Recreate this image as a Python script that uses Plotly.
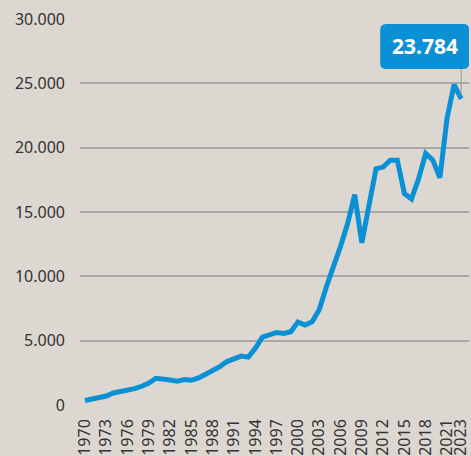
import plotly.graph_objects as go

years = list(range(1970, 2024))
values = [
    350, 440, 545, 700, 935, 1035, 1145, 1270, 1455, 1710,
    2080, 2050, 1940, 1845, 1980, 1920, 2100, 2390, 2670, 2985,
    3375, 3560, 3800, 3720, 4415, 5270, 5430, 5635, 5555, 5690,
    6440, 6210, 6465, 7400, 9170, 10650, 12330, 14100, 16360, 12600,
    15480, 18360, 18490, 19030, 19030, 16440, 16020, 17580, 19550, 19030,
    17660, 22260, 24900, 23784,
]
tick_years = list(range(1970, 2022, 3)) + [2023]
y_ticks = [0, 5000, 10000, 15000, 20000, 25000, 30000]

BG = "#dcd8d1"
BLUE = "#0a90d5"
last_x, last_y = years[-1], values[-1]

fig = go.Figure()
fig.add_trace(
    go.Scatter(
        x=years,
        y=values,
        mode="lines",
        line=dict(color=BLUE, width=5),
        hoverinfo="skip",
    )
)

# rounded label box + thin leader line, sized in pixels around the last point
r = 6
x0, x1, y0, y1 = -81, 8, 30, 75
box_path = (
    f"M {x0 + r},{y0} L {x1 - r},{y0} Q {x1},{y0} {x1},{y0 + r} "
    f"L {x1},{y1 - r} Q {x1},{y1} {x1 - r},{y1} "
    f"L {x0 + r},{y1} Q {x0},{y1} {x0},{y1 - r} "
    f"L {x0},{y0 + r} Q {x0},{y0} {x0 + r},{y0} Z"
)
fig.add_shape(
    type="line",
    xref="x", yref="y",
    xsizemode="pixel", ysizemode="pixel",
    xanchor=last_x, yanchor=last_y,
    x0=0, x1=0, y0=4, y1=30,
    line=dict(color="#999999", width=1),
)
fig.add_shape(
    type="path",
    xref="x", yref="y",
    xsizemode="pixel", ysizemode="pixel",
    xanchor=last_x, yanchor=last_y,
    path=box_path,
    fillcolor=BLUE,
    line=dict(width=0),
    layer="above",
)
fig.add_annotation(
    x=last_x, y=last_y,
    text=f"<b>{last_y:,}</b>".replace(",", "."),
    showarrow=False,
    xshift=-36.5, yshift=52.5,
    font=dict(family="Noto Sans", size=21, color="white"),
)

fig.update_xaxes(
    range=[1969.3, 2024.1],
    tickvals=tick_years,
    ticktext=[str(y) for y in tick_years],
    tickangle=-90,
    ticklabeloverflow="allow",
    showgrid=False,
    zeroline=False,
    showline=False,
    ticklabelstandoff=10,
    tickfont=dict(family="Noto Sans", size=16, color="#333333"),
)
fig.update_yaxes(
    range=[0, 30000],
    tickvals=y_ticks,
    tickformat=",d",
    showgrid=True,
    gridcolor="#a8a8a8",
    gridwidth=1.5,
    zeroline=True,
    zerolinecolor=BG,
    showline=False,
    ticklabelstandoff=14,
    tickfont=dict(family="Noto Sans", size=16, color="#333333"),
)
fig.update_layout(
    width=471,
    height=456,
    margin=dict(l=80, r=0, t=19, b=51),
    paper_bgcolor=BG,
    plot_bgcolor=BG,
    separators=",.",
    showlegend=False,
)
fig.write_html(
    "out.html",
    config={"displayModeBar": False},
    post_script="document.body.style.margin='0';document.body.style.background='%s';" % BG,
)
